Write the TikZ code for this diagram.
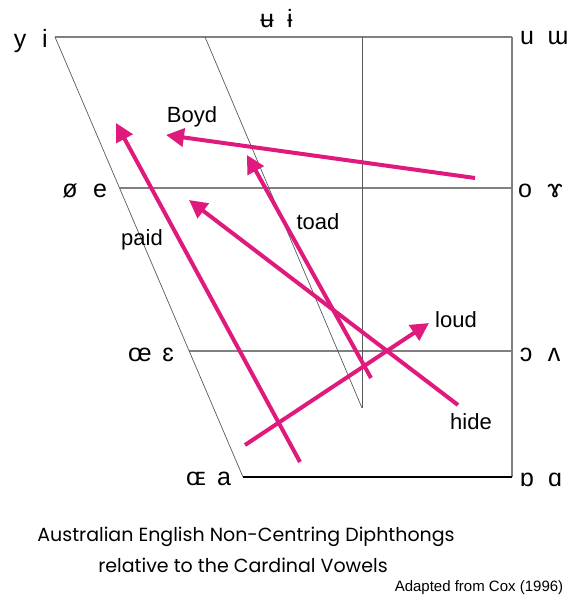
\documentclass[tikz,border=0pt]{standalone}
\usepackage{fontspec}
\setmainfont{Liberation Sans}
\newfontfamily\titlefont{Poppins}
\usetikzlibrary{arrows.meta}
\definecolor{diph}{RGB}{224,25,125}
\tikzset{
  vowel/.style={font=\fontsize{25}{25}\selectfont, inner sep=0pt, anchor=base},
  word/.style={font=\fontsize{22}{22}\selectfont, inner sep=0pt},
  frame/.style={draw=black!50, line width=1.2pt},
  thin/.style={draw=black!65, line width=0.7pt},
  glide/.style={diph, line width=4pt, -{Triangle[length=18pt,width=18pt]}}
}
\begin{document}
\begin{tikzpicture}[x=1pt,y=-1pt]
      \useasboundingbox (0,0) rectangle (583,604);
      % corners of the chart
      \coordinate (fc) at (55,37);
      \coordinate (bc) at (512,37);
      \coordinate (fo) at (243,477);
      \coordinate (bo) at (512,477);
      \coordinate (mc) at (205,37);
      \coordinate (mo) at (362,408);
      \coordinate (cc) at (362,37);
      \coordinate (fmc) at (119.5,188);
      \coordinate (bmc) at (512,188);
      \coordinate (fmo) at (189,351);
      \coordinate (bmo) at (512,351);
      \draw[frame] (fc) to (bc);
      \draw[frame] (bc) to (bo);
      \draw[frame] (fmc) to (bmc);
      \draw[frame] (fmo) to (bmo);
      \draw[thin] (fc) to (fo);
      \draw[thin] (mc) to (mo);
      \draw[thin] (cc) to (mo);
      \draw[line width=2pt] (fo) to (bo);
      % cardinal vowels
      \draw
        (20,48) node[vowel] (y){y}
        (45,48) node[vowel] (i){i}
        (267,28) node[vowel] (ubar){ʉ}
        (290,28) node[vowel] (ibar){ɨ}
        (527,45) node[vowel] (u){u}
        (558,45) node[vowel] (uu){ɯ}
        (70,197) node[vowel] (oslash){ø}
        (100,197) node[vowel] (e){e}
        (525,197) node[vowel] (o){o}
        (555,197) node[vowel] (gamma){ɤ}
        (140,361) node[vowel] (oe){œ}
        (168,361) node[vowel] (eps){ɛ}
        (526,361) node[vowel] (openo){ɔ}
        (554,361) node[vowel] (wedge){ʌ}
        (196,485) node[vowel] (OE){ɶ}
        (224,485) node[vowel] (a){a}
        (527,486) node[vowel] (turna){ɒ}
        (555,486) node[vowel] (alpha){ɑ};
      % diphthongs
      \coordinate (boyd0) at (475,178);
      \coordinate (boyd1) at (166,135);
      \coordinate (paid0) at (300,462);
      \coordinate (paid1) at (116,123);
      \coordinate (toad0) at (371,378);
      \coordinate (toad1) at (247,155);
      \coordinate (hide0) at (458,405);
      \coordinate (hide1) at (189,200);
      \coordinate (loud0) at (245,445);
      \coordinate (loud1) at (429,323);
      \begin{scope}[glide]
        \draw (boyd0) to (boyd1);
        \draw (paid0) to (paid1);
        \draw (toad0) to (toad1);
        \draw (hide0) to (hide1);
        \draw (loud0) to (loud1);
      \end{scope}
      \draw
        (192,117) node[word] (boyd){Boyd}
        (142,240) node[word] (paid){paid}
        (318,222) node[word] (toad){toad}
        (456,320) node[word] (loud){loud}
        (471,422) node[word] (hide){hide};
      % caption
      \node[font=\titlefont\fontsize{19}{19}\selectfont] (title1) at (246,537) {Australian English Non-Centring Diphthongs};
      \node[font=\titlefont\fontsize{19}{19}\selectfont] (title2) at (243,565) {relative to the Cardinal Vowels};
      \node[font=\fontsize{15}{15}\selectfont, inner sep=0pt] (source) at (479,588) {Adapted from Cox (1996)};
    \end{tikzpicture}
\end{document}
